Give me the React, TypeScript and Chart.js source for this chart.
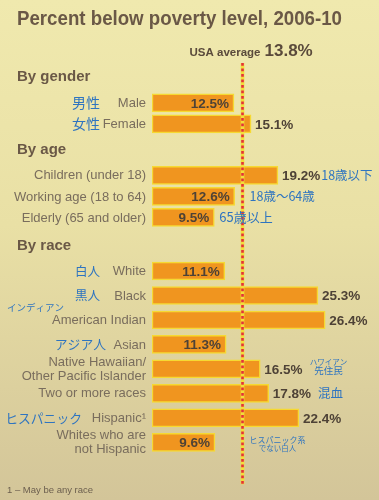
import React, { useEffect, useRef } from "react";
import { Chart, registerables } from "chart.js";

Chart.register(...registerables);

// ---------------- data ----------------
const TITLE = "Percent below poverty level, 2006-10";
const AVERAGE_CAPTION = "USA average";
const USA_AVERAGE = 13.8;
const FOOTNOTE = "1 – May be any race";
const GROUP_TITLES = ["By gender", "By age", "By race"];

const GENDER_LABELS = ["Male", "Female"];
const GENDER_VALUES = [12.5, 15.1];
const GENDER_NOTES = ["男性", "女性"];

const AGE_LABELS = ["Children (under 18)", "Working age (18 to 64)", "Elderly (65 and older)"];
const AGE_VALUES = [19.2, 12.6, 9.5];
const AGE_NOTES = ["18歳以下", "18歳～64歳", "65歳以上"];

const RACE_LABELS = [
  "White",
  "Black",
  "American Indian",
  "Asian",
  "Native Hawaiian/\nOther Pacific Islander",
  "Two or more races",
  "Hispanic¹",
  "Whites who are\nnot Hispanic",
];
const RACE_VALUES = [11.1, 25.3, 26.4, 11.3, 16.5, 17.8, 22.4, 9.6];
const RACE_NOTES = ["白人", "黒人", "インディアン", "アジア人", "ハワイアン\n先住民", "混血", "ヒスパニック", "ヒスパニック系\nでない白人"];

// ---------------- layout ----------------
const W = 379;
const H = 500;
const ROW_PITCH = [1, 1, 1.165];
const GROUP_GAP = [0, 2.45, 2.55];
const HEADER_OFFSET = 1.22;
const Y_MIN = -4.9;
const Y_MAX = 18.9;
const X_MAX = 34;

const SANS = '"Liberation Sans", Arial, sans-serif';
const JP = '"Noto Sans CJK JP", "Noto Sans CJK SC", sans-serif';
const TITLE_COLOR = "#6a5846";
const LABEL_COLOR = "#796d5d";
const VALUE_COLOR = "#4e4236";
const NOTE_COLOR = "#2e74c0";

// placement of each Japanese note (same order as rows)
type NoteStyle = {
  at: "x" | "value" | "bar" | "avg";
  x?: number;
  dx?: number;
  align: CanvasTextAlign;
  sizes: number[];
  dys: number[];
};
const NOTE_STYLE: NoteStyle[] = [
  { at: "x", x: 100, align: "right", sizes: [14], dys: [0] },
  { at: "x", x: 100, align: "right", sizes: [14], dys: [0] },
  { at: "value", dx: 1, align: "left", sizes: [12.5], dys: [0] },
  { at: "avg", dx: 7, align: "left", sizes: [12.5], dys: [0] },
  { at: "bar", dx: 5, align: "left", sizes: [13], dys: [0] },
  { at: "x", x: 100, align: "right", sizes: [12.5], dys: [0] },
  { at: "x", x: 100, align: "right", sizes: [12.5], dys: [0] },
  { at: "x", x: 7, align: "left", sizes: [9.5], dys: [-13] },
  { at: "x", x: 106, align: "right", sizes: [12.8], dys: [0] },
  { at: "value", dx: 26, align: "center", sizes: [7.5, 9.5], dys: [-7, 1] },
  { at: "value", dx: 7, align: "left", sizes: [12.5], dys: [0] },
  { at: "x", x: 82, align: "right", sizes: [12.8], dys: [0] },
  { at: "avg", dx: 35, align: "center", sizes: [8, 7.5], dys: [-2.5, 5.5] },
];

type Row = { label: string; value: number; note: string; pos: number };

const GROUPS = [
  { labels: GENDER_LABELS, values: GENDER_VALUES, notes: GENDER_NOTES },
  { labels: AGE_LABELS, values: AGE_VALUES, notes: AGE_NOTES },
  { labels: RACE_LABELS, values: RACE_VALUES, notes: RACE_NOTES },
];

function buildRows() {
  const rows: Row[] = [];
  const headers: number[] = [];
  let pos = 0;
  GROUPS.forEach((g, gi) => {
    pos += GROUP_GAP[gi];
    headers.push(pos - HEADER_OFFSET);
    g.labels.forEach((label, i) => {
      rows.push({ label, value: g.values[i], note: g.notes[i], pos: pos + i * ROW_PITCH[gi] });
    });
    pos += (g.labels.length - 1) * ROW_PITCH[gi];
  });
  return { rows, headers };
}

const VALUE_FONT = `bold 13.5px ${SANS}`;

export default function App() {
  const ref = useRef<HTMLCanvasElement | null>(null);

  useEffect(() => {
    const canvas = ref.current;
    if (!canvas) return;
    const { rows, headers } = buildRows();

    const overlay = {
      id: "overlay",
      beforeDraw(chart: any) {
        const ctx = chart.ctx as CanvasRenderingContext2D;
        const g = ctx.createLinearGradient(0, 0, 0, chart.height);
        g.addColorStop(0, "#f0e9ae");
        g.addColorStop(0.45, "#e9e0a5");
        g.addColorStop(1, "#d3c599");
        ctx.save();
        ctx.fillStyle = g;
        ctx.fillRect(0, 0, chart.width, chart.height);
        ctx.restore();
      },
      afterDatasetsDraw(chart: any) {
        const ctx = chart.ctx as CanvasRenderingContext2D;
        const xs = chart.scales.x;
        const ys = chart.scales.y;
        const avgX = xs.getPixelForValue(USA_AVERAGE);
        ctx.save();

        // title
        ctx.fillStyle = TITLE_COLOR;
        ctx.textBaseline = "alphabetic";
        ctx.textAlign = "left";
        ctx.font = `bold 21px ${SANS}`;
        ctx.fillText(TITLE, 17, 25, 325);

        // average caption
        ctx.fillStyle = "#5a4a3b";
        ctx.textAlign = "right";
        ctx.font = `bold 11.5px ${SANS}`;
        ctx.fillText(AVERAGE_CAPTION, avgX + 18, 56);
        ctx.textAlign = "left";
        ctx.font = `bold 17px ${SANS}`;
        ctx.fillText(USA_AVERAGE.toFixed(1) + "%", avgX + 22, 56);

        // group headers
        ctx.fillStyle = TITLE_COLOR;
        ctx.textBaseline = "middle";
        ctx.font = `bold 15px ${SANS}`;
        headers.forEach((h, i) => {
          ctx.fillText(GROUP_TITLES[i], 17, ys.getPixelForValue(h));
        });

        // category labels
        ctx.fillStyle = LABEL_COLOR;
        ctx.font = `13px ${SANS}`;
        ctx.textAlign = "right";
        rows.forEach((r) => {
          const y = ys.getPixelForValue(r.pos) + 0.5;
          const lines = r.label.split("\n");
          lines.forEach((ln, li) => {
            ctx.fillText(ln, xs.left - 6, y + (li - (lines.length - 1) / 2) * 14);
          });
        });

        // dotted average line
        const top = ys.getPixelForValue(rows[0].pos - 1.9);
        const bottom = ys.getPixelForValue(rows[rows.length - 1].pos + 2);
        ctx.beginPath();
        ctx.moveTo(avgX, top);
        ctx.lineTo(avgX, bottom);
        ctx.strokeStyle = "#f2df3a";
        ctx.lineWidth = 3.6;
        ctx.stroke();
        ctx.setLineDash([2.6, 2.9]);
        ctx.lineWidth = 2.6;
        ctx.strokeStyle = "#e5313a";
        ctx.stroke();
        ctx.setLineDash([]);

        // value labels
        ctx.font = VALUE_FONT;
        ctx.fillStyle = VALUE_COLOR;
        const valueEnds: number[] = [];
        rows.forEach((r) => {
          const y = ys.getPixelForValue(r.pos) + 1;
          const end = xs.getPixelForValue(r.value);
          const txt = r.value.toFixed(1) + "%";
          if (r.value < USA_AVERAGE) {
            ctx.textAlign = "right";
            ctx.fillText(txt, end - 5, y);
            valueEnds.push(end);
          } else {
            ctx.textAlign = "left";
            ctx.fillText(txt, end + 4, y);
            valueEnds.push(end + 4 + ctx.measureText(txt).width);
          }
        });

        // Japanese notes
        ctx.fillStyle = NOTE_COLOR;
        rows.forEach((r, i) => {
          const st = NOTE_STYLE[i];
          const y = ys.getPixelForValue(r.pos);
          let x = 0;
          if (st.at === "x") x = st.x || 0;
          else if (st.at === "value") x = valueEnds[i] + (st.dx || 0);
          else if (st.at === "bar") x = xs.getPixelForValue(r.value) + (st.dx || 0);
          else x = avgX + (st.dx || 0);
          ctx.textAlign = st.align;
          r.note.split("\n").forEach((ln, li) => {
            ctx.font = `${st.sizes[li]}px ${JP}`;
            ctx.fillText(ln, x, y + st.dys[li]);
          });
        });

        // footnote
        ctx.fillStyle = "#6b5e4e";
        ctx.textAlign = "left";
        ctx.textBaseline = "alphabetic";
        ctx.font = `9.5px ${SANS}`;
        ctx.fillText(FOOTNOTE, 7, 493);

        ctx.restore();
      },
    };

    const chart = new Chart(canvas, {
      type: "bar",
      data: {
        datasets: [
          {
            data: rows.map((r) => ({ x: r.value, y: r.pos })),
            backgroundColor: "#f0951f",
            borderColor: "#f6d932",
            borderWidth: 1.5,
            borderSkipped: false,
            barThickness: 18,
          } as any,
        ],
      },
      options: {
        indexAxis: "y",
        responsive: false,
        maintainAspectRatio: false,
        animation: false,
        devicePixelRatio: 1,
        events: [],
        layout: { padding: { left: 152, right: 4, top: 0, bottom: 0 } },
        scales: {
          x: { type: "linear", min: 0, max: X_MAX, display: false, offset: false },
          y: { type: "linear", min: Y_MIN, max: Y_MAX, reverse: true, display: false, offset: false },
        },
        plugins: { legend: { display: false }, tooltip: { enabled: false } },
      } as any,
      plugins: [overlay],
    });
    return () => chart.destroy();
  }, []);

  return (
    <div style={{ position: "fixed", left: 0, top: 0, width: W, height: H }}>
      <canvas ref={ref} width={W} height={H} style={{ width: W, height: H, display: "block" }} />
    </div>
  );
}
